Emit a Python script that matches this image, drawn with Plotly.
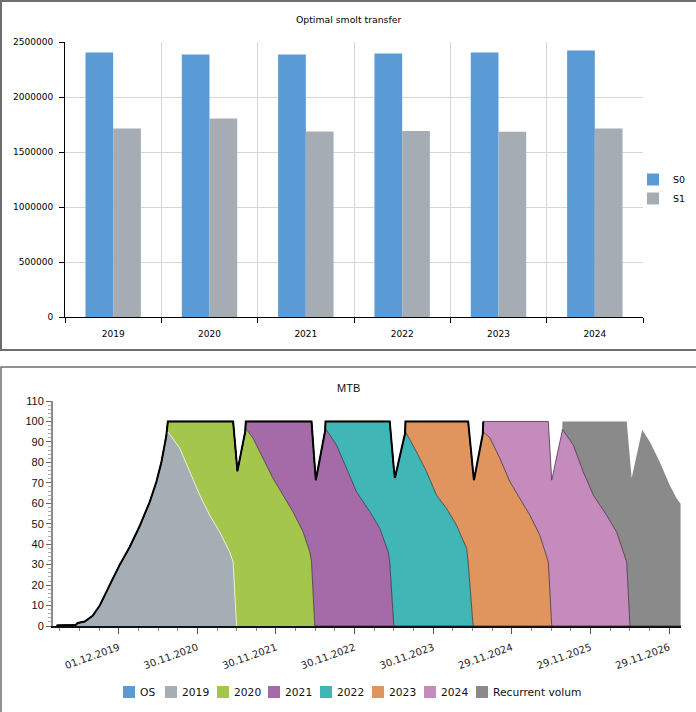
import numpy as np
import pandas as pd
import plotly.graph_objects as go

# ---------------- Top chart: Optimal smolt transfer ----------------
years = ["2019", "2020", "2021", "2022", "2023", "2024"]
s0_values = [2405000, 2387000, 2387000, 2396000, 2405000, 2423000]
s1_values = [1713000, 1804000, 1686000, 1692000, 1683000, 1713000]

# ---------------- Bottom chart: MTB (% of max allowed biomass) ----------------
os_dates = ["2019-02-16", "2027-01-21"]
os_values = [0, 0]

dates_2019 = ["2019-02-16", "2019-05-15", "2019-05-25", "2019-06-26", "2019-08-02", "2019-09-04",
              "2019-10-20", "2019-12-06", "2020-01-21", "2020-03-08", "2020-04-23", "2020-05-24",
              "2020-06-16", "2020-07-02", "2020-07-09", "2020-07-16", "2020-09-09", "2020-10-26",
              "2020-12-11", "2021-01-27", "2021-03-14", "2021-04-29", "2021-05-15", "2021-05-31"]
values_2019 = [0.3, 0.5, 1.5, 2.2, 5, 10, 20, 30, 38.6, 49, 60.7, 70.5,
               80, 90, 93, 95, 87, 75.4, 64, 54, 46, 36.2, 31.3, 0]

dates_2020 = ["2020-07-09", "2020-07-16", "2020-09-09", "2020-10-26", "2020-12-11", "2021-01-27",
              "2021-03-14", "2021-04-29", "2021-05-15", "2021-05-31", "2021-06-04", "2021-07-13",
              "2021-08-16", "2021-10-01", "2021-11-17", "2022-01-02", "2022-02-17", "2022-04-05",
              "2022-05-06", "2022-05-14", "2022-05-29"]
values_2020 = [0, 5, 13, 24.6, 36, 46, 54, 63.8, 68.7, 80.6, 75.7, 96.5,
               91.7, 82, 72, 64, 55.8, 46, 36.2, 31.3, 0]

dates_2021 = ["2021-07-10", "2021-07-13", "2021-08-16", "2021-10-01", "2021-11-17", "2022-01-02",
              "2022-02-17", "2022-04-05", "2022-05-06", "2022-05-14", "2022-05-29", "2022-06-03",
              "2022-07-18", "2022-09-07", "2022-10-23", "2022-12-09", "2023-02-09", "2023-03-27",
              "2023-05-05", "2023-05-12", "2023-05-31"]
values_2021 = [0, 3.5, 8.3, 18, 28, 36, 44.2, 54, 63.8, 68.7, 78, 71.3,
               96.5, 88.5, 77, 65.6, 55.8, 47.7, 36.2, 31.3, 0]

dates_2022 = ["2022-07-16", "2022-07-18", "2022-09-07", "2022-10-23", "2022-12-09", "2023-02-09",
              "2023-03-27", "2023-05-05", "2023-05-12", "2023-05-31", "2023-06-05", "2023-07-24",
              "2023-09-14", "2023-10-30", "2023-12-15", "2024-01-31", "2024-03-17", "2024-05-03",
              "2024-05-10", "2024-06-02"]
values_2022 = [0, 3.5, 11.5, 23, 34.4, 44.2, 52.3, 63.8, 68.7, 77, 72.4, 95,
               85, 75.4, 64, 57.4, 49.3, 37.9, 31.3, 0]

dates_2023 = ["2023-07-22", "2023-07-24", "2023-09-14", "2023-10-30", "2023-12-15", "2024-01-31",
              "2024-03-17", "2024-05-03", "2024-05-10", "2024-06-02", "2024-06-06", "2024-07-19",
              "2024-08-19", "2024-10-04", "2024-11-20", "2025-01-05", "2025-02-21", "2025-04-08",
              "2025-05-09", "2025-05-17", "2025-06-02"]
values_2023 = [0, 5, 15, 24.6, 36, 42.6, 50.7, 62.1, 68.7, 75.3, 71.3, 95,
               92, 82, 70.5, 62.3, 54.1, 44.3, 34.5, 31.3, 0]

dates_2024 = ["2024-07-17", "2024-07-19", "2024-08-19", "2024-10-04", "2024-11-20", "2025-01-05",
              "2025-02-21", "2025-04-08", "2025-05-09", "2025-05-17", "2025-06-02", "2025-07-22",
              "2025-09-10", "2025-10-26", "2025-12-12", "2026-02-12", "2026-03-30", "2026-05-08",
              "2026-05-16", "2026-05-31"]
values_2024 = [0, 5, 8, 18, 29.5, 37.7, 45.9, 55.7, 65.5, 68.7, 71.3, 96,
               88.5, 75.4, 64, 54.1, 46, 34.5, 31.3, 0]

dates_recurrent = ["2025-07-20", "2025-07-22", "2025-09-10", "2025-10-26", "2025-12-12", "2026-02-12",
                   "2026-03-30", "2026-05-08", "2026-05-16", "2026-05-31", "2026-06-08", "2026-07-27",
                   "2026-09-01", "2026-10-17", "2026-12-03", "2027-01-03", "2027-01-21"]
values_recurrent = [0, 4, 11.5, 24.6, 36, 45.9, 54, 65.5, 68.7, 81.8, 72.4, 96,
                    90, 80, 68.6, 62.3, 59.8]

mtb_tick_dates = ["2019-12-01", "2020-11-30", "2021-11-30", "2022-11-30",
                  "2023-11-30", "2024-11-29", "2025-11-29", "2026-11-29"]
mtb_range = ["2019-01-30", "2027-01-23"]
total_line_end = "2024-07-19"
boundary_2019_start = "2020-07-09"
mtb_grid_values = [10, 20, 30, 40, 50, 60, 70, 80, 90, 100]

W, H = 696, 712

series = [
    ("OS", os_dates, os_values, "#5b9bd5", "#5b9bd5", 0),
    ("2019", dates_2019, values_2019, "#a5adb5", "#a5adb5", 0),
    ("2020", dates_2020, values_2020, "#a5c64c", "#3d3a3a", 0.8),
    ("2021", dates_2021, values_2021, "#a46ba8", "#3d2f3d", 0.8),
    ("2022", dates_2022, values_2022, "#41b6b6", "#2f3d3d", 0.8),
    ("2023", dates_2023, values_2023, "#e0955e", "#3d3330", 0.8),
    ("2024", dates_2024, values_2024, "#c68bbd", "#4a2f48", 0.8),
    ("Recurrent volum", dates_recurrent, values_recurrent, "#8a8a8a", "#8a8a8a", 0),
]

fig = go.Figure()

fig.add_trace(go.Bar(x=years, y=s0_values, name="S0", marker=dict(color="#5b9bd5", line=dict(width=0)),
                     xaxis="x", yaxis="y", hoverinfo="skip"))
fig.add_trace(go.Bar(x=years, y=s1_values, name="S1", marker=dict(color="#a5acb4", line=dict(width=0)),
                     xaxis="x", yaxis="y", hoverinfo="skip"))

for name, d, v, color, lcolor, lw in series:
    fig.add_trace(go.Scatter(
        x=d, y=v, name=name, mode="lines", stackgroup="mtb", stackgaps="interpolate",
        fillcolor=color, line=dict(color=lcolor, width=lw),
        xaxis="x2", yaxis="y2", showlegend=False, hoverinfo="skip"))

# light edge between the 2019 area and the 2020 area above it
d19 = pd.to_datetime(dates_2019)
keep = d19 >= pd.Timestamp(boundary_2019_start)
fig.add_trace(go.Scatter(x=d19[keep], y=np.array(values_2019)[keep], mode="lines",
                         line=dict(color="#e9ecdc", width=1),
                         xaxis="x2", yaxis="y2", showlegend=False, hoverinfo="skip"))

# black outline of the stacked total
t_all = pd.DatetimeIndex(sorted(set(pd.to_datetime([x for _, d, *_ in series for x in d]))))
tn = t_all.values.astype("int64")
total = np.zeros(len(tn))
for _, d, v, *_ in series:
    total += np.interp(tn, pd.to_datetime(d).values.astype("int64"), v)
mask = t_all <= pd.Timestamp(total_line_end)
fig.add_trace(go.Scatter(x=t_all[mask], y=total[mask], mode="lines",
                         line=dict(color="#000000", width=2),
                         xaxis="x2", yaxis="y2", showlegend=False, hoverinfo="skip"))

grid_c = "#d6d6d6"
fig.update_layout(
    width=W, height=H, margin=dict(l=0, r=0, t=0, b=0, autoexpand=False),
    paper_bgcolor="white", plot_bgcolor="white",
    font=dict(family="DejaVu Sans", size=9, color="#000000"),
    barmode="group", bargap=0.425, bargroupgap=0,
    hovermode=False,
    xaxis=dict(domain=[65 / W, 643 / W], anchor="y", type="category", tickson="boundaries",
               showgrid=True, gridcolor=grid_c, gridwidth=1, ticks="outside", ticklen=5,
               tickcolor="#000000", showline=True, linecolor="#000000", linewidth=1,
               tickfont=dict(family="DejaVu Sans", size=9), ticklabelstandoff=8),
    yaxis=dict(domain=[1 - 317 / H, 1 - 42 / H], anchor="x", range=[0, 2500000], dtick=500000,
               tickformat="d", showgrid=True, gridcolor=grid_c, gridwidth=1, ticks="outside",
               ticklen=5, tickcolor="#000000", showline=True, linecolor="#000000", linewidth=1,
               zeroline=False, tickfont=dict(family="DejaVu Sans", size=9), ticklabelstandoff=4),
    xaxis2=dict(domain=[53 / W, 681 / W], anchor="y2", type="date", range=mtb_range,
                tickmode="array", tickvals=mtb_tick_dates, tickformat="%d.%m.%Y", tickangle=-20,
                ticks="outside", ticklen=6, tickcolor="#555555", showline=True, linecolor="#111111",
                linewidth=2, showgrid=False, zeroline=False, ticklabelstandoff=4,
                tickfont=dict(family="DejaVu Sans", size=10, color="#222222"),
                minor=dict(ticks="outside", ticklen=3, tickmode="linear", tick0="2019-12-01",
                           dtick=91.25 * 86400000, tickcolor="#888888", showgrid=False)),
    yaxis2=dict(domain=[1 - 626 / H, 1 - 401 / H], anchor="x2", range=[0, 110], dtick=10,
                showgrid=False, ticks="outside", ticklen=5, tickcolor="#666666", showline=True,
                linecolor="#8a8a8a", linewidth=2, zeroline=False,
                tickfont=dict(family="Liberation Sans", size=11, color="#111111"),
                ticklabelstandoff=0,
                minor=dict(ticks="outside", dtick=2, ticklen=3, tickcolor="#aaaaaa", showgrid=False)),
    yaxis3=dict(overlaying="y2", anchor="x2", range=[0, 110], tickmode="array",
                tickvals=mtb_grid_values, showgrid=True, gridcolor="#dcdcdc", gridwidth=2,
                showticklabels=False, ticks="", showline=False, zeroline=False),
    legend=dict(x=633 / W, y=1 - 189 / H, xanchor="left", yanchor="middle", traceorder="normal",
                font=dict(family="DejaVu Sans", size=9.5), bgcolor="rgba(0,0,0,0)",
                itemclick=False, itemdoubleclick=False),
)

annotations = [
    dict(text="Optimal smolt transfer", x=348 / W, y=1 - 20 / H, xref="paper", yref="paper",
         showarrow=False, xanchor="center", yanchor="middle",
         font=dict(family="DejaVu Sans", size=9.3, color="#000000")),
    dict(text="MTB", x=348 / W, y=1 - 388 / H, xref="paper", yref="paper",
         showarrow=False, xanchor="center", yanchor="middle",
         font=dict(family="Liberation Sans", size=11, color="#111111")),
]
shapes = [
    dict(type="rect", xref="paper", yref="paper", x0=1 / W, x1=700 / W, y0=1 - 350 / H, y1=1 - 1 / H,
         line=dict(color="#6e6e6e", width=2), fillcolor="rgba(0,0,0,0)", layer="above"),
    dict(type="rect", xref="paper", yref="paper", x0=1 / W, x1=700 / W, y0=-5 / H, y1=1 - 367 / H,
         line=dict(color="#6e6e6e", width=1.5), fillcolor="rgba(0,0,0,0)", layer="above"),
]

# legend of the MTB chart (square swatches followed by the series names)
legend_swatch_px = [123, 165, 217, 268, 320, 372, 424, 476]
for (name, d, v, color, lcolor, lw), xs in zip(series, legend_swatch_px):
    shapes.append(dict(type="rect", xref="paper", yref="paper", x0=xs / W, x1=(xs + 12) / W,
                       y0=1 - 698 / H, y1=1 - 686 / H, line=dict(width=0), fillcolor=color))
    annotations.append(dict(text=name, x=(xs + 15) / W, y=1 - 692 / H, xref="paper", yref="paper",
                            showarrow=False, xanchor="left", yanchor="middle",
                            font=dict(family="DejaVu Sans", size=10.7, color="#111111")))

fig.update_layout(annotations=annotations, shapes=shapes)

fig.write_html("out.html", config={"displayModeBar": False},
               post_script="document.body.style.margin='0';document.body.style.overflow='hidden';")
